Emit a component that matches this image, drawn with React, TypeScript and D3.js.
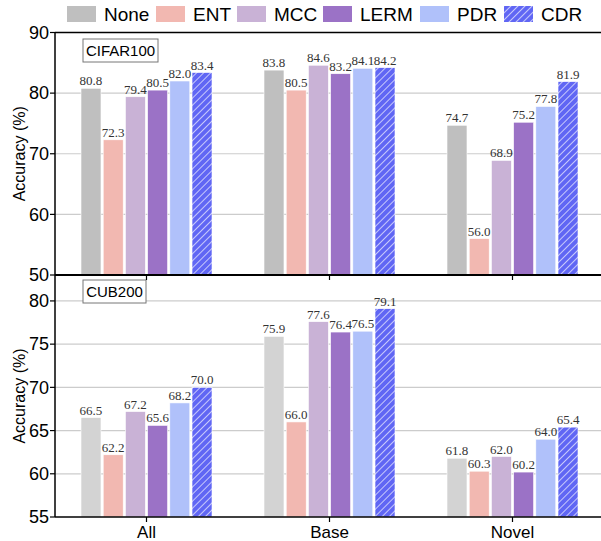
import React from 'react'
import * as d3 from 'd3'

const groups = ['All', 'Base', 'Novel']
const methods = ['None', 'ENT', 'MCC', 'LERM', 'PDR', 'CDR']

const cifarValues = [
  [80.8, 72.3, 79.4, 80.5, 82.0, 83.4],
  [83.8, 80.5, 84.6, 83.2, 84.1, 84.2],
  [74.7, 56.0, 68.9, 75.2, 77.8, 81.9]
]
const cubValues = [
  [66.5, 62.2, 67.2, 65.6, 68.2, 70.0],
  [75.9, 66.0, 77.6, 76.4, 76.5, 79.1],
  [61.8, 60.3, 62.0, 60.2, 64.0, 65.4]
]
const cifarTicks = [50, 60, 70, 80, 90]
const cubTicks = [55, 60, 65, 70, 75, 80]

const colorsTop = ['#bfbfbf', '#f2b8b1', '#c9b2d6', '#9b72c6', '#b0c1fa', 'url(#hatch)']
const colorsBottom = ['#d3d3d3', '#f2b8b1', '#c9b2d6', '#9b72c6', '#b0c1fa', 'url(#hatch)']

const sans = "'Liberation Sans', Arial, sans-serif"
const serif = "'Liberation Serif', 'Times New Roman', serif"

const W = 601
const H = 541
const left = 55
const right = 604

const x0 = d3.scaleBand().domain(groups).range([left, right])
const x1 = d3.scaleBand().domain(methods).range([0, 131]).paddingInner(0.1)
const groupOffset = (x0.bandwidth() - 131) / 2

const yTop = d3.scaleLinear().domain([50, 90]).range([275, 32.5])
const yBot = d3.scaleLinear().domain([55, 83]).range([517, 275])

const Panel = ({ values, y, ticks, colors, name, boxY, boxW }) => {
  const [y0] = y.domain()
  return (
    <g>
      {ticks.filter(t => t !== 90 && t !== y0).map(t => (
        <line key={'g' + t} x1={left} x2={W} y1={y(t)} y2={y(t)} stroke="#cccccc" strokeWidth={1.2} />
      ))}
      {values.map((row, gi) =>
        row.map((v, mi) => {
          const bx = x0(groups[gi]) + groupOffset + x1(methods[mi])
          return (
            <g key={gi + '-' + mi}>
              <rect x={bx} y={y(v)} width={x1.bandwidth()} height={y(y0) - y(v)} fill={colors[mi]} stroke="#ffffff" strokeWidth={0.6} />
              <text x={bx + x1.bandwidth() / 2} y={y(v) - 3} textAnchor="middle" fontFamily={serif} fontSize={13} fill="#333">
                {v.toFixed(1)}
              </text>
            </g>
          )
        })
      )}
      {ticks.map(t => (
        <g key={'t' + t}>
          <line x1={left - 5} x2={left} y1={y(t)} y2={y(t)} stroke="#000" strokeWidth={1.2} />
          <text x={left - 6} y={y(t)} dy="0.35em" textAnchor="end" fontFamily={sans} fontSize={18} fill="#000">
            {t}
          </text>
        </g>
      ))}
      <rect x={83} y={boxY} width={boxW} height={23} fill="#fff" stroke="#777" strokeWidth={1} />
      <text x={83 + boxW / 2} y={boxY + 12} dy="0.35em" textAnchor="middle" fontFamily={sans} fontSize={15} fill="#000">
        {name}
      </text>
      <text transform={`translate(19,${(y.range()[0] + y.range()[1]) / 2}) rotate(-90)`} textAnchor="middle" dy="0.35em" fontFamily={sans} fontSize={16} fill="#000">
        Accuracy (%)
      </text>
    </g>
  )
}

const legendX = [67, 156, 237, 323, 420, 504]

export default function App() {
  return (
    <svg width={W} height={H} style={{ position: 'absolute', left: 0, top: 0, background: '#fff' }}>
      <defs>
        <pattern id="hatch" patternUnits="userSpaceOnUse" width={5} height={5} patternTransform="rotate(45)">
          <rect width={5} height={5} fill="#6066f4" />
          <line x1={0} y1={0} x2={0} y2={5} stroke="#ffffff" strokeWidth={1.3} />
        </pattern>
      </defs>
      {methods.map((m, i) => (
        <g key={m}>
          <rect x={legendX[i]} y={6} width={29} height={16} fill={colorsTop[i]} />
          <text x={legendX[i] + 37} y={14} dy="0.35em" fontFamily={sans} fontSize={19} fill="#000">
            {m}
          </text>
        </g>
      ))}
      <Panel values={cubValues} y={yBot} ticks={cubTicks} colors={colorsBottom} name="CUB200" boxY={280} boxW={63} />
      <Panel values={cifarValues} y={yTop} ticks={cifarTicks} colors={colorsTop} name="CIFAR100" boxY={39} boxW={75} />
      <line x1={left} x2={W} y1={32.5} y2={32.5} stroke="#000" strokeWidth={1.5} />
      <line x1={left} x2={left} y1={32} y2={517} stroke="#000" strokeWidth={1.5} />
      <line x1={left} x2={W} y1={275} y2={275} stroke="#000" strokeWidth={2.2} />
      <line x1={left} x2={W} y1={517} y2={517} stroke="#000" strokeWidth={1.5} />
      {groups.map(g => {
        const cx = x0(g) + x0.bandwidth() / 2
        return (
          <g key={g}>
            <line x1={cx} x2={cx} y1={275} y2={280} stroke="#000" strokeWidth={1.2} />
            <line x1={cx} x2={cx} y1={517} y2={522} stroke="#000" strokeWidth={1.2} />
            <text x={cx} y={532} dy="0.35em" textAnchor="middle" fontFamily={sans} fontSize={17} fill="#000">
              {g}
            </text>
          </g>
        )
      })}
    </svg>
  )
}
